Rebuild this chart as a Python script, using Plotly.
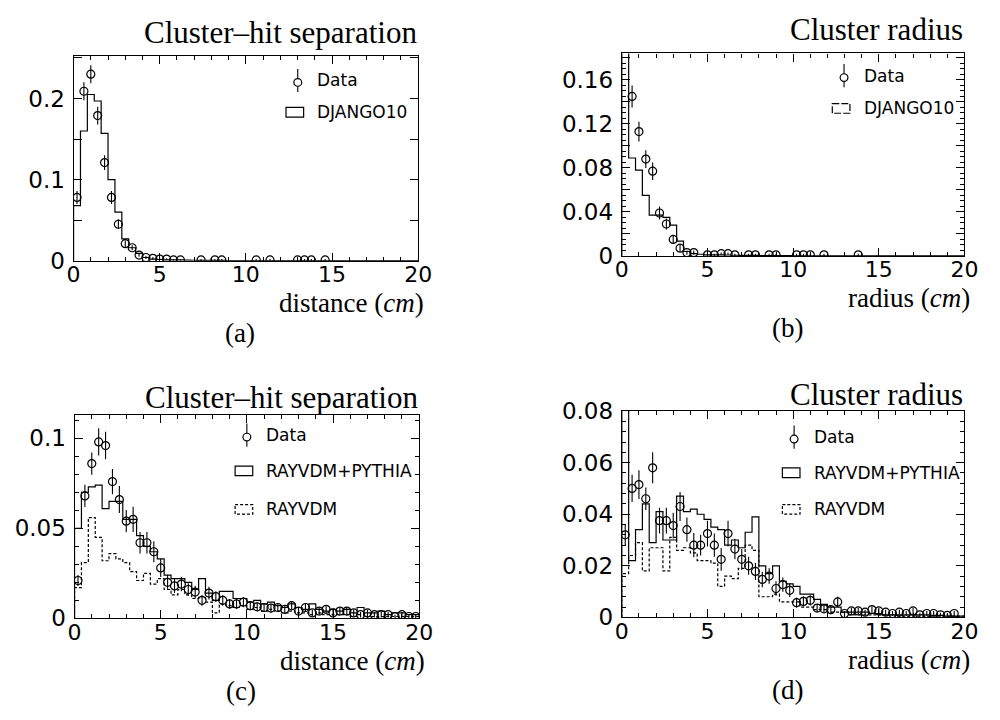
import numpy as np
import plotly.graph_objects as go

W, H = 1000, 720

# 0.4 cm bins from 0 to 20 cm
EDGES = np.linspace(0.0, 20.0, 51)
CENTERS = 0.5 * (EDGES[:-1] + EDGES[1:])

# ---- (a) cluster-hit separation, DJANGO10 ----
a_data = [0.078, 0.209, 0.230, 0.179, 0.121, 0.078, 0.045, 0.021, 0.016, 0.007,
          0.004, 0.003, 0.002, 0.002, 0.001, 0.001, None, None, 0.001, None,
          0.001, 0.001, None, None, None, None, 0.001, None, 0.001, None,
          None, None, 0.001, 0.001, 0.001, None, 0.001, None, None, None,
          None, None, None, None, None, None, None, None, None, None]
a_err = [0.008, 0.011, 0.011, 0.011, 0.009, 0.008, 0.006, 0.004, 0.003, 0.002,
         0.002, 0.0015, 0.001, 0.001, 0.001, 0.001, 0, 0, 0.001, 0,
         0.001, 0.001, 0, 0, 0, 0, 0.001, 0, 0.001, 0,
         0, 0, 0.001, 0.001, 0.001, 0, 0.001, 0, 0, 0,
         0, 0, 0, 0, 0, 0, 0, 0, 0, 0]
a_django = [0.068, 0.160, 0.205, 0.197, 0.157, 0.100, 0.060, 0.027, 0.016, 0.009,
            0.004, 0.002, 0.0015, 0.001, 0.001, 0.001, 0.0008, 0.0006, 0.0005, 0.0005,
            0.0004, 0.0004, 0.0003, 0.0003, 0.0003, 0.0002, 0.0002, 0.0002, 0.0002, 0.0001,
            0, 0, 0, 0, 0, 0, 0, 0, 0, 0,
            0, 0, 0, 0, 0, 0, 0, 0, 0, 0]

# ---- (b) cluster radius, DJANGO10 ----
b_data = [None, 0.145, 0.113, 0.088, 0.077, 0.039, 0.029, 0.015, 0.007, 0.003,
          0.003, None, 0.001, 0.001, 0.002, 0.002, 0.001, None, 0.001, 0.001,
          None, 0.001, 0.001, None, None, 0.001, 0.001, 0.001, None, 0.001,
          None, None, None, None, 0.001, None, None, None, None, None,
          None, None, None, None, None, None, None, None, None, None]
b_err = [0, 0.010, 0.009, 0.008, 0.008, 0.006, 0.005, 0.004, 0.003, 0.002,
         0.002, 0, 0.001, 0.001, 0.001, 0.001, 0.001, 0, 0.001, 0.001,
         0, 0.001, 0.001, 0, 0, 0.001, 0.001, 0.001, 0, 0.001,
         0, 0, 0, 0, 0.001, 0, 0, 0, 0, 0,
         0, 0, 0, 0, 0, 0, 0, 0, 0, 0]
b_django = [0.400, 0.089, 0.078, 0.055, 0.037, 0.037, 0.035, 0.028, 0.0135, 0.004,
            0.002, 0.0015, 0.001, 0.001, 0.001, 0.0008, 0.0006, 0.0005, 0.0005, 0.0004,
            0.0003, 0.0003, 0.0002, 0.0002, 0.0002, 0.0001, 0.0001, 0.0001, 0, 0,
            0, 0, 0, 0, 0, 0, 0, 0, 0, 0,
            0, 0, 0, 0, 0, 0, 0, 0, 0, 0]

# ---- (c) cluster-hit separation, RAYVDM(+PYTHIA) ----
c_data = [0.021, 0.068, 0.086, 0.098, 0.096, 0.076, 0.066, 0.054, 0.055, 0.042,
          0.042, 0.037, 0.028, 0.020, 0.018, 0.019, 0.016, 0.0146, 0.010, 0.014,
          0.012, 0.010, 0.008, 0.008, 0.009, 0.007, 0.0064, 0.006, 0.0057, 0.006,
          0.005, 0.007, 0.004, 0.006, 0.003, 0.004, 0.005, 0.003, 0.004, 0.004,
          0.003, 0.002, 0.003, 0.002, 0.002, 0.002, 0.001, 0.002, 0.001, 0.001]
c_err = [0.003, 0.0062, 0.0062, 0.0076, 0.0076, 0.007, 0.0075, 0.0062, 0.007, 0.006,
         0.006, 0.0058, 0.005, 0.004, 0.004, 0.004, 0.0035, 0.0035, 0.003, 0.0035,
         0.003, 0.003, 0.0028, 0.0028, 0.0028, 0.0025, 0.0025, 0.0025, 0.0024, 0.0024,
         0.0022, 0.0025, 0.002, 0.0022, 0.0018, 0.002, 0.002, 0.0018, 0.002, 0.002,
         0.0018, 0.0015, 0.0018, 0.0015, 0.0015, 0.0015, 0.001, 0.0015, 0.001, 0.001]
c_full = [0.050, 0.070, 0.073, 0.074, 0.061, 0.065, 0.065, 0.055, 0.055, 0.046,
          0.040, 0.037, 0.033, 0.024, 0.022, 0.022, 0.020, 0.016, 0.022, 0.014,
          0.010, 0.015, 0.015, 0.011, 0.011, 0.009, 0.010, 0.008, 0.009, 0.007,
          0.006, 0.008, 0.006, 0.005, 0.008, 0.005, 0.004, 0.005, 0.004, 0.005,
          0.003, 0.006, 0.003, 0.003, 0.004, 0.002, 0.003, 0.003, 0.002, 0.002]
c_vdm = [0.017, 0.031, 0.056, 0.045, 0.032, 0.036, 0.033, 0.031, 0.026, 0.021,
         0.025, 0.019, 0.022, 0.016, 0.013, 0.016, 0.013, 0.011, 0.012, 0.009,
         0.003, 0.008, 0.007, 0.006, 0.007, 0.005, 0.006, 0.004, 0.005, 0.004,
         0.003, 0.004, 0.003, 0.003, 0.002, 0.003, 0.002, 0.002, 0.002, 0.002,
         0.001, 0.002, 0.001, 0.001, 0.001, 0.001, 0.001, 0.001, 0.001, 0.001]

# ---- (d) cluster radius, RAYVDM(+PYTHIA) ----
d_data = [0.032, 0.050, 0.0515, 0.046, 0.058, 0.0375, 0.0375, 0.0356, 0.043, 0.034,
          0.028, 0.028, 0.0325, 0.028, 0.0225, 0.0325, 0.0265, 0.0225, 0.020, 0.0178,
          0.0147, 0.016, 0.0112, 0.0127, 0.0105, 0.0057, 0.0062, 0.0066, 0.0036, 0.0033,
          0.0030, 0.006, 0.0015, 0.0025, 0.0025, 0.002, 0.003, 0.0025, 0.002, 0.0015,
          0.002, 0.0015, 0.0025, 0.001, 0.0015, 0.0015, 0.001, 0.0008, 0.0015, None]
d_err = [0.004, 0.0053, 0.0056, 0.0044, 0.006, 0.005, 0.005, 0.005, 0.0056, 0.0047,
         0.0047, 0.004, 0.005, 0.0045, 0.0044, 0.005, 0.004, 0.004, 0.0035, 0.0033,
         0.003, 0.003, 0.0028, 0.0028, 0.0026, 0.002, 0.002, 0.002, 0.0016, 0.0016,
         0.0015, 0.002, 0.001, 0.0012, 0.0012, 0.001, 0.0013, 0.0012, 0.001, 0.001,
         0.001, 0.001, 0.0012, 0.0008, 0.001, 0.001, 0.0008, 0.0007, 0.001, 0]
d_full = [0.300, 0.022, 0.034, 0.044, 0.029, 0.041, 0.030, 0.030, 0.047, 0.041,
          0.042, 0.040, 0.038, 0.035, 0.034, 0.028, 0.030, 0.027, 0.033, 0.039,
          0.020, 0.017, 0.020, 0.014, 0.013, 0.012, 0.009, 0.009, 0.007, 0.005,
          0.004, 0.004, 0.002, 0.002, 0.002, 0.002, 0.0015, 0.0015, 0.001, 0.001,
          0.001, 0.001, 0.001, 0.001, 0.001, 0.0008, 0.0008, 0.0005, 0.0005, 0.0005]
d_vdm = [0.017, 0.024, 0.029, 0.018, 0.027, 0.027, 0.018, 0.031, 0.026, 0.027,
         0.025, 0.022, 0.022, 0.021, 0.012, 0.016, 0.015, 0.019, 0.028, 0.026,
         0.008, 0.008, 0.009, 0.006, 0.006, 0.006, 0.004, 0.004, 0.003, 0.003,
         0.002, 0.002, 0.002, 0.001, 0.001, 0.001, 0.001, 0.001, 0.001, 0.001,
         0.0005, 0.0005, 0.0005, 0.0005, 0.0005, 0.0005, 0.0005, 0.0005, 0.0005, 0.0005]

# panel frames in pixels: (left, right, top, bottom), y-axis upper limit, title centre y
PANELS = {
    "a": dict(box=(68, 420, 45, 257), ymax=0.252, ty=20),
    "b": dict(box=(628, 978, 42, 252), ymax=0.184, ty=17),
    "c": dict(box=(69, 421, 417, 628), ymax=0.113, ty=399),
    "d": dict(box=(628, 978, 413, 627), ymax=0.08, ty=396),
}

SERIF = "Liberation Serif"
SANS = "DejaVu Sans"


def fx(px):
    return px / W


def fy(py):
    return 1 - py / H


def step_xy(values):
    xs = [EDGES[0]] + list(EDGES[:-1]) + [EDGES[-1], EDGES[-1]]
    ys = [0.0] + list(values) + [values[-1], 0.0]
    return xs, ys


fig = go.Figure()

axis_ids = {"a": ("x", "y"), "b": ("x2", "y2"), "c": ("x3", "y3"), "d": ("x4", "y4")}


def add_hist(panel, values, dash=None):
    xa, ya = axis_ids[panel]
    xs, ys = step_xy(values)
    fig.add_trace(go.Scatter(
        x=xs, y=ys, mode="lines", line_shape="hv",
        line=dict(color="black", width=1.2, dash=dash),
        xaxis=xa, yaxis=ya, showlegend=False, hoverinfo="skip"))


def add_points(panel, values, errors):
    xa, ya = axis_ids[panel]
    xs = [c for c, v in zip(CENTERS, values) if v is not None]
    ys = [v for v in values if v is not None]
    es = [e for e, v in zip(errors, values) if v is not None]
    fig.add_trace(go.Scatter(
        x=xs, y=ys, mode="markers",
        marker=dict(symbol="circle-open", size=8, color="black", line=dict(width=1.2)),
        error_y=dict(type="data", array=es, visible=True, color="black",
                     thickness=1.1, width=0),
        xaxis=xa, yaxis=ya, showlegend=False))


add_hist("a", a_django)
add_points("a", a_data, a_err)
add_hist("b", b_django)
add_points("b", b_data, b_err)
add_hist("c", c_vdm, dash="3px,2px")
add_hist("c", c_full)
add_points("c", c_data, c_err)
add_hist("d", d_vdm, dash="3px,2px")
add_hist("d", d_full)
add_points("d", d_data, d_err)

# y tick layout per panel: (tick values, labelled values, minor step)
YTICKS = {
    "a": (np.arange(0, 0.251, 0.05), [0.0, 0.1, 0.2], None),
    "b": (np.arange(0, 0.181, 0.02), [0.0, 0.04, 0.08, 0.12, 0.16], 0.005),
    "c": (np.arange(0, 0.111, 0.05), [0.0, 0.05, 0.1], 0.01),
    "d": (np.arange(0, 0.081, 0.02), [0.0, 0.02, 0.04, 0.06, 0.08], 0.004),
}

layout = dict(
    width=W, height=H, margin=dict(l=0, r=0, t=0, b=0),
    paper_bgcolor="white", plot_bgcolor="white", showlegend=False,
)

for key, (xa, ya) in axis_ids.items():
    l, r, t, b = PANELS[key]["box"]
    xname = "xaxis" + xa[1:]
    yname = "yaxis" + ya[1:]
    layout[xname] = dict(
        domain=[fx(l), fx(r)], range=[0, 20], anchor=ya,
        showline=True, mirror="ticks", linecolor="black", linewidth=1.2,
        ticks="inside", ticklen=8, tickwidth=1, tickcolor="black",
        tickvals=[0, 5, 10, 15, 20], ticktext=["0", "5", "10", "15", "20"],
        tickfont=dict(family=SANS, size=22, color="black"),
        ticklabelstandoff=-6,
        minor=dict(ticks="inside", ticklen=4, dtick=1, tick0=0, tickcolor="black"),
        showgrid=False, zeroline=False, fixedrange=True,
    )
    tv, labelled, mdt = YTICKS[key]
    tt = [("0" if abs(v) < 1e-9 else "{:g}".format(round(v, 3)))
          if any(abs(v - q) < 1e-9 for q in labelled) else "" for v in tv]
    yax = dict(
        domain=[fy(b), fy(t)], range=[0, PANELS[key]["ymax"]], anchor=xa,
        showline=True, mirror="ticks", linecolor="black", linewidth=1.2,
        ticks="inside", ticklen=8, tickwidth=1, tickcolor="black",
        tickvals=list(tv), ticktext=tt,
        tickfont=dict(family=SANS, size=23, color="black"),
        ticklabelstandoff=3,
        showgrid=False, zeroline=False, fixedrange=True,
    )
    if mdt:
        yax["minor"] = dict(ticks="inside", ticklen=4, dtick=mdt, tick0=0, tickcolor="black")
    layout[yname] = yax

fig.update_layout(**layout)

ann = []
shapes = []

# panel titles, axis titles and sub-figure labels
TITLES = {"a": "Cluster\u2013hit separation", "b": "Cluster radius",
          "c": "Cluster\u2013hit separation", "d": "Cluster radius"}
XTITLES = {"a": "distance (<i>cm</i>)", "b": "radius (<i>cm</i>)",
           "c": "distance (<i>cm</i>)", "d": "radius (<i>cm</i>)"}
for key in "abcd":
    l, r, t, b = PANELS[key]["box"]
    ann.append(dict(x=fx(r + 1), y=fy(PANELS[key]["ty"]), xref="paper", yref="paper",
                    text=TITLES[key], showarrow=False, xanchor="right", yanchor="middle",
                    font=dict(family=SERIF, size=31, color="black")))
    ann.append(dict(x=fx(r + 7), y=fy(b + 44), xref="paper", yref="paper",
                    text=XTITLES[key], showarrow=False, xanchor="right", yanchor="middle",
                    font=dict(family=SERIF, size=27, color="black"), borderpad=0))
    ann.append(dict(x=fx((l + r) / 2 - 6), y=fy(b + 75), xref="paper", yref="paper",
                    text="(" + key + ")", showarrow=False, xanchor="center", yanchor="middle",
                    font=dict(family=SERIF, size=27, color="black"), borderpad=0))

# legend entries: (text x, [(label, kind, y)])
LEGENDS = {
    "a": (315, [("Data", "pt", 70), ("DJANGO10", "box", 103)]),
    "b": (873, [("Data", "pt", 65), ("DJANGO10", "gbox", 99)]),
    "c": (263, [("Data", "pt", 438), ("RAYVDM+PYTHIA", "box", 475), ("RAYVDM", "dbox", 515)]),
    "d": (822, [("Data", "pt", 440), ("RAYVDM+PYTHIA", "box", 477), ("RAYVDM", "dbox", 515)]),
}
BOX_DASH = {"box": "solid", "gbox": "7px,2px", "dbox": "3px,2px"}
for key, (tx, items) in LEGENDS.items():
    for label, kind, yy in items:
        ann.append(dict(x=fx(tx), y=fy(yy), xref="paper", yref="paper", text=label,
                        showarrow=False, xanchor="left", yanchor="middle",
                        font=dict(family=SANS, size=17, color="black")))
        if kind == "pt":
            cx = tx - 18
            shapes.append(dict(type="line", xref="paper", yref="paper",
                               x0=fx(cx), x1=fx(cx), y0=fy(yy - 12), y1=fy(yy + 12),
                               line=dict(color="black", width=1.1)))
            shapes.append(dict(type="circle", xref="paper", yref="paper",
                               x0=fx(cx - 4), x1=fx(cx + 4), y0=fy(yy - 2), y1=fy(yy + 6),
                               fillcolor="white", line=dict(color="black", width=1.2)))
        else:
            shapes.append(dict(type="rect", xref="paper", yref="paper",
                               x0=fx(tx - 30), x1=fx(tx - 12), y0=fy(yy - 5), y1=fy(yy + 5),
                               line=dict(color="black", width=1.2, dash=BOX_DASH[kind])))

fig.update_layout(annotations=ann, shapes=shapes)
fig.write_html("out.html")
